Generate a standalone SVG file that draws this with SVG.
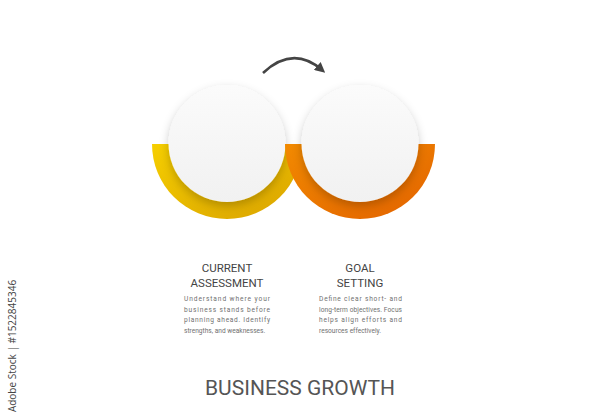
<svg xmlns="http://www.w3.org/2000/svg" width="600" height="420" viewBox="0 0 600 420">
<style>
.title{font-family:Roboto,"Liberation Sans",sans-serif;font-size:11.5px;fill:#444;text-anchor:middle}
.body{font-family:Roboto,"Liberation Sans",sans-serif;font-size:6.6px;fill:#707070}
.main{font-family:Roboto,"Liberation Sans",sans-serif;font-size:21px;fill:#555;text-anchor:middle}
.wm{font-family:"Open Sans","Liberation Sans",sans-serif;font-size:10px;fill:#444;text-anchor:middle}
.disc{fill:url(#discG);filter:url(#sh)}
</style>
<defs>
<linearGradient id="yel" x1="0" y1="0" x2="1" y2="1">
<stop offset="0" stop-color="#f6cf00"/><stop offset="1" stop-color="#d9a200"/>
</linearGradient>
<linearGradient id="org" x1="0" y1="0" x2="1" y2="1">
<stop offset="0" stop-color="#f28a00"/><stop offset="1" stop-color="#e26200"/>
</linearGradient>
<linearGradient id="discG" x1="0" y1="0" x2="0" y2="1">
<stop offset="0" stop-color="#fbfbfb"/><stop offset="1" stop-color="#f1f1f1"/>
</linearGradient>
<filter id="sh" x="-30%" y="-30%" width="160%" height="170%">
<feDropShadow dx="0" dy="4" stdDeviation="5" flood-color="#000" flood-opacity="0.22"/>
</filter>
<marker id="ah" viewBox="0 0 10 10" refX="6" refY="5" markerWidth="4" markerHeight="4" orient="auto">
<path d="M0,0 L10,5 L0,10 z" fill="#444"/>
</marker>
</defs>
<rect width="600" height="420" fill="#fff"/>
<g id="connectors">
<path d="M263,73 Q293,45 322,70" fill="none" stroke="#444" stroke-width="2.6" marker-end="url(#ah)"/>
</g>
<g id="step1">
<path d="M152,144 A75,75 0 0 0 302,144 Z" fill="url(#yel)"/>
<circle class="disc" cx="227" cy="143.5" r="58.5"/>
<text class="title" x="227" y="272">CURRENT</text>
<text class="title" x="227" y="287">ASSESSMENT</text>
<text class="body" x="184" y="301" textLength="86" lengthAdjust="spacing">Understand where your</text>
<text class="body" x="184" y="311.5" textLength="86" lengthAdjust="spacing">business stands before</text>
<text class="body" x="184" y="322" textLength="86" lengthAdjust="spacing">planning ahead. Identify</text>
<text class="body" x="184" y="332.5">strengths, and weaknesses.</text>
</g>
<g id="step2">
<path d="M285,144 A75,75 0 0 0 435,144 Z" fill="url(#org)"/>
<circle class="disc" cx="360" cy="143.5" r="58.5"/>
<text class="title" x="360" y="272">GOAL</text>
<text class="title" x="360" y="287">SETTING</text>
<text class="body" x="319" y="301" textLength="83" lengthAdjust="spacing">Define clear short- and</text>
<text class="body" x="319" y="311.5" textLength="83" lengthAdjust="spacing">long-term objectives. Focus</text>
<text class="body" x="319" y="322" textLength="83" lengthAdjust="spacing">helps align efforts and</text>
<text class="body" x="319" y="332.5">resources effectively.</text>
</g>
<text class="main" x="300" y="395">BUSINESS GROWTH</text>
<text class="wm" transform="translate(16,346) rotate(-90)">Adobe Stock | #1522845346</text>
</svg>
